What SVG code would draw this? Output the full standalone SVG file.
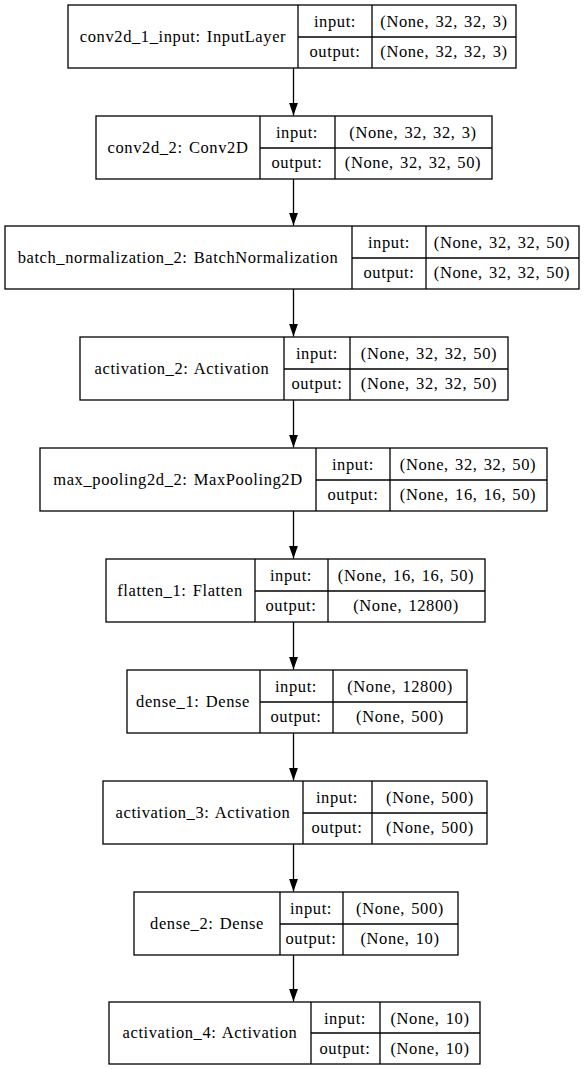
<svg xmlns="http://www.w3.org/2000/svg" width="588" height="1069" viewBox="0 0 588 1069">
<defs>
<style>
.b{fill:#fff;stroke:#000;stroke-width:1.3}
.l{stroke:#000;stroke-width:1.3}
text{font-family:"Liberation Serif","Times New Roman",serif;font-size:16.5px;letter-spacing:0.6px;word-spacing:1.5px;fill:#000;text-anchor:middle}
.c{stroke:#000;stroke-width:1.3;fill:none}
</style>
<marker id="ah" markerWidth="13" markerHeight="10" refX="13" refY="5" orient="auto" markerUnits="userSpaceOnUse" viewBox="0 0 13 10">
<path d="M0,0.4 L13,5 L0,9.6 Z" fill="#000"/>
</marker>
</defs>
<rect width="588" height="1069" fill="#fff"/>
<g id="connectors">
<line class="c" x1="293.5" y1="68" x2="293.5" y2="115.5" marker-end="url(#ah)"/>
<line class="c" x1="293.5" y1="179" x2="293.5" y2="225.5" marker-end="url(#ah)"/>
<line class="c" x1="293.5" y1="289" x2="293.5" y2="336.5" marker-end="url(#ah)"/>
<line class="c" x1="293.5" y1="400" x2="293.5" y2="447.5" marker-end="url(#ah)"/>
<line class="c" x1="293.5" y1="511" x2="293.5" y2="558.5" marker-end="url(#ah)"/>
<line class="c" x1="293.5" y1="622" x2="293.5" y2="669.5" marker-end="url(#ah)"/>
<line class="c" x1="293.5" y1="733" x2="293.5" y2="780.5" marker-end="url(#ah)"/>
<line class="c" x1="293.5" y1="844" x2="293.5" y2="891.5" marker-end="url(#ah)"/>
<line class="c" x1="293.5" y1="955" x2="293.5" y2="1001.5" marker-end="url(#ah)"/>
</g>
<g id="n1">
<rect class="b" x="68" y="5" width="448" height="63"/>
<line class="l" x1="298" y1="5" x2="298" y2="68"/><line class="l" x1="372" y1="5" x2="372" y2="68"/><line class="l" x1="298" y1="37" x2="516" y2="37"/>
<text x="183" y="42">conv2d_1_input: InputLayer</text>
<text x="335" y="26.5">input:</text><text x="335" y="57">output:</text>
<text x="444" y="26.5">(None, 32, 32, 3)</text><text x="444" y="57">(None, 32, 32, 3)</text>
</g>
<g id="n2">
<rect class="b" x="96" y="116" width="396" height="63"/>
<line class="l" x1="260" y1="116" x2="260" y2="179"/><line class="l" x1="335" y1="116" x2="335" y2="179"/><line class="l" x1="260" y1="148" x2="492" y2="148"/>
<text x="178" y="153">conv2d_2: Conv2D</text>
<text x="297" y="137.5">input:</text><text x="297" y="168">output:</text>
<text x="413" y="137.5">(None, 32, 32, 3)</text><text x="413" y="168">(None, 32, 32, 50)</text>
</g>
<g id="n3">
<rect class="b" x="5" y="226" width="574" height="63"/>
<line class="l" x1="352" y1="226" x2="352" y2="289"/><line class="l" x1="426" y1="226" x2="426" y2="289"/><line class="l" x1="352" y1="258" x2="579" y2="258"/>
<text x="178" y="263">batch_normalization_2: BatchNormalization</text>
<text x="389" y="247.5">input:</text><text x="389" y="278">output:</text>
<text x="502" y="247.5">(None, 32, 32, 50)</text><text x="502" y="278">(None, 32, 32, 50)</text>
</g>
<g id="n4">
<rect class="b" x="80" y="337" width="428" height="63"/>
<line class="l" x1="284" y1="337" x2="284" y2="400"/><line class="l" x1="350" y1="337" x2="350" y2="400"/><line class="l" x1="284" y1="369" x2="508" y2="369"/>
<text x="182" y="374">activation_2: Activation</text>
<text x="317" y="358.5">input:</text><text x="317" y="389">output:</text>
<text x="429" y="358.5">(None, 32, 32, 50)</text><text x="429" y="389">(None, 32, 32, 50)</text>
</g>
<g id="n5">
<rect class="b" x="40" y="448" width="507" height="63"/>
<line class="l" x1="316" y1="448" x2="316" y2="511"/><line class="l" x1="390" y1="448" x2="390" y2="511"/><line class="l" x1="316" y1="480" x2="547" y2="480"/>
<text x="178" y="485">max_pooling2d_2: MaxPooling2D</text>
<text x="353" y="469.5">input:</text><text x="353" y="500">output:</text>
<text x="468" y="469.5">(None, 32, 32, 50)</text><text x="468" y="500">(None, 16, 16, 50)</text>
</g>
<g id="n6">
<rect class="b" x="106" y="559" width="379" height="63"/>
<line class="l" x1="255" y1="559" x2="255" y2="622"/><line class="l" x1="328" y1="559" x2="328" y2="622"/><line class="l" x1="255" y1="591" x2="485" y2="591"/>
<text x="180" y="596">flatten_1: Flatten</text>
<text x="291" y="580.5">input:</text><text x="291" y="611">output:</text>
<text x="406" y="580.5">(None, 16, 16, 50)</text><text x="406" y="611">(None, 12800)</text>
</g>
<g id="n7">
<rect class="b" x="127" y="670" width="340" height="63"/>
<line class="l" x1="260" y1="670" x2="260" y2="733"/><line class="l" x1="333" y1="670" x2="333" y2="733"/><line class="l" x1="260" y1="702" x2="467" y2="702"/>
<text x="193" y="707">dense_1: Dense</text>
<text x="296" y="691.5">input:</text><text x="296" y="722">output:</text>
<text x="400" y="691.5">(None, 12800)</text><text x="400" y="722">(None, 500)</text>
</g>
<g id="n8">
<rect class="b" x="103" y="781" width="384" height="63"/>
<line class="l" x1="303" y1="781" x2="303" y2="844"/><line class="l" x1="372" y1="781" x2="372" y2="844"/><line class="l" x1="303" y1="813" x2="487" y2="813"/>
<text x="203" y="818">activation_3: Activation</text>
<text x="337" y="802.5">input:</text><text x="337" y="833">output:</text>
<text x="430" y="802.5">(None, 500)</text><text x="430" y="833">(None, 500)</text>
</g>
<g id="n9">
<rect class="b" x="134" y="892" width="324" height="63"/>
<line class="l" x1="280" y1="892" x2="280" y2="955"/><line class="l" x1="343" y1="892" x2="343" y2="955"/><line class="l" x1="280" y1="924" x2="458" y2="924"/>
<text x="207" y="929">dense_2: Dense</text>
<text x="311" y="913.5">input:</text><text x="311" y="944">output:</text>
<text x="400" y="913.5">(None, 500)</text><text x="400" y="944">(None, 10)</text>
</g>
<g id="n10">
<rect class="b" x="109" y="1002" width="371" height="62"/>
<line class="l" x1="311" y1="1002" x2="311" y2="1064"/><line class="l" x1="380" y1="1002" x2="380" y2="1064"/><line class="l" x1="311" y1="1033" x2="480" y2="1033"/>
<text x="210" y="1038">activation_4: Activation</text>
<text x="345" y="1023.5">input:</text><text x="345" y="1054">output:</text>
<text x="430" y="1023.5">(None, 10)</text><text x="430" y="1054">(None, 10)</text>
</g>
</svg>
